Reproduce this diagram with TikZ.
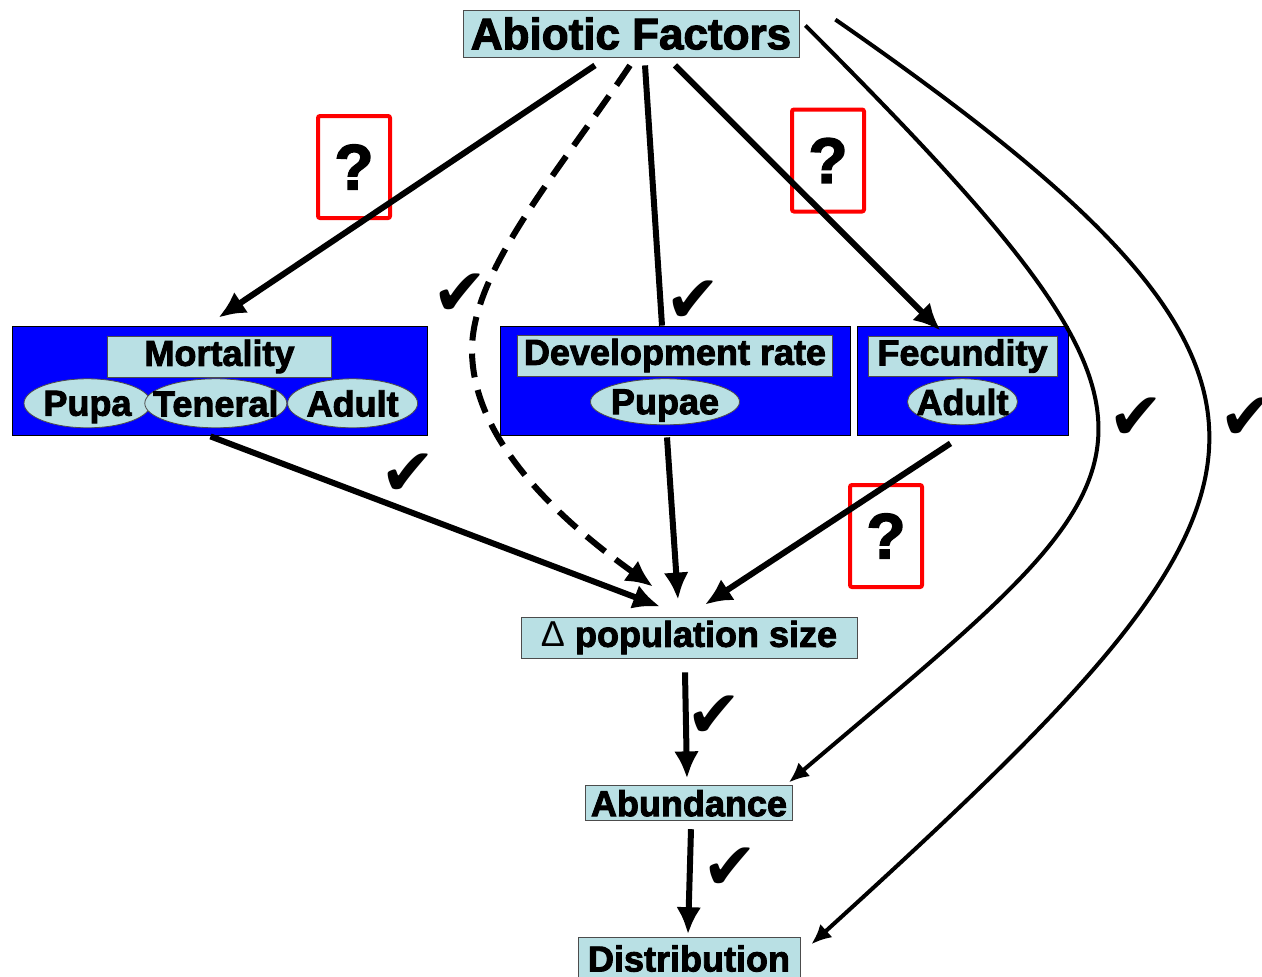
\documentclass[tikz,border=0pt]{standalone}
\usepackage{fontspec}
\usepackage{tikz}
\usetikzlibrary{arrows.meta,calc,positioning,shapes.geometric}
\setmainfont{Liberation Sans}[BoldFeatures={FakeBold=2.5}]
\newfontfamily\tickfont{DejaVu Sans}
\definecolor{paleblue}{RGB}{185,224,228}
\definecolor{boxblue}{RGB}{0,0,255}
\definecolor{qred}{RGB}{255,0,0}
\newcommand{\zw}[1]{\makebox[0pt]{#1}}

\begin{document}
\begin{tikzpicture}[x=1pt, y=-1pt,
    every node/.style={font=\bfseries\fontsize{36}{36}\selectfont}]
    \tikzstyle{tag}=[rectangle, draw=black!70, fill=paleblue, inner sep=0pt, line width=0.8pt]
    \tikzstyle{group}=[rectangle, draw=black, fill=boxblue, inner sep=0pt, minimum height=109pt, line width=0.8pt]
    \tikzstyle{stage}=[ellipse, draw=black!70, fill=paleblue, inner sep=0pt, minimum height=49pt, text depth=0pt, line width=0.8pt]
    \tikzstyle{qbox}=[rectangle, draw=qred, line width=4pt, rounded corners=2pt, minimum width=72pt, minimum height=102pt, font=\bfseries\fontsize{64}{64}\selectfont]
    \tikzstyle{tick}=[inner sep=0pt, font=\tickfont\fontsize{66}{66}\selectfont]
    \tikzstyle{connect}=[-{Latex[length=27pt,width=25pt]}, line width=6pt]
    \tikzstyle{curved}=[-{Latex[length=20pt,width=18pt]}, line width=4pt]

      \useasboundingbox (0,0) rectangle (1262,977);

      \node[tag, minimum width=336pt, minimum height=47pt, font=\bfseries\fontsize{44}{44}\selectfont] (abiotic) at (631,33.5) {Abiotic Factors};

      % mortality
      \node[group, minimum width=415pt] (mortbox) at (219.5,380.5) {};
      \node[tag, minimum width=224pt, minimum height=41pt] (mort) [below=10pt of mortbox.north] {Mortality};
      \node[stage, minimum width=127pt] (pupa) [below=1pt of mort, xshift=-132pt] {\zw{Pupa}};
      \node[stage, minimum width=142pt] (teneral) [right=-7pt of pupa] {\zw{Teneral}};
      \node[stage, minimum width=130pt] (adult) [right=0pt of teneral] {\zw{Adult}};

      % development
      \node[group, minimum width=350pt] (devbox) at (675,380.5) {};
      \node[tag, minimum width=315pt, minimum height=41pt] (dev) [below=9pt of devbox.north] {Development rate};
      \node[stage, minimum width=149pt, minimum height=46pt] (pupae) [below=2pt of dev, xshift=-10pt] {\zw{Pupae}};

      % fecundity
      \node[group, minimum width=211pt] (fecbox) at (962.5,380.5) {};
      \node[tag, minimum width=189pt, minimum height=40pt] (fec) [below=10pt of fecbox.north] {Fecundity};
      \node[stage, minimum width=110pt, minimum height=46pt] (fecadult) [below=2pt of fec] {\zw{Adult}};

      \node[tag, minimum width=336pt, minimum height=41pt] (popsize) at (689,637.5) {{\mdseries Δ} population size};
      \node[tag, minimum width=207pt, minimum height=35pt] (abundance) [below=127pt of popsize] {Abundance};
      \node[tag, minimum width=222pt, minimum height=42pt] (distribution) [below=116pt of abundance] {Distribution};

      \node[qbox] (q1) at (354,167) {?};
      \node[qbox] (q2) at (828,160.5) {?};
      \node[qbox] (q3) at (886,536) {?};

      \node[tick] (tick1) at (460,295) {✔};
      \node[tick] (tick2) at (693,302) {✔};
      \node[tick] (tick3) at (408,475) {✔};
      \node[tick] (tick4) at (714,717) {✔};
      \node[tick] (tick5) at (730,869) {✔};
      \node[tick] (tick6) at (1136,419) {✔};
      \node[tick] (tick7) at (1247,419) {✔};

      \coordinate (bend) at (472,350);
      \path
        ($(abiotic.south)+(-36,8)$) edge [connect] ($(mortbox.north)+(-1,-8)$)
        ($(abiotic.south)+(14,8)$) edge [line width=6pt] ($(devbox.north)+(-13,0)$)
        ($(abiotic.south)+(44,8)$) edge [connect] ($(fecbox.north)+(-22,5)$)
        ($(mortbox.south)+(-9,1)$) edge [connect] ($(popsize.north)+(-29,-10)$)
        ($(devbox.south)+(-8,2)$) edge [connect] ($(popsize.north)+(-11,-17)$)
        ($(fecbox.south)+(-12,8)$) edge [connect] ($(popsize.north)+(16,-12)$)
        ($(popsize.south)+(-4,14)$) edge [connect] ($(abundance.north)+(-2,-7)$)
        ($(abundance.south)+(2,8)$) edge [connect] ($(distribution.north)+(-1,-3)$);
      \draw[connect, dash pattern=on 24pt off 13pt] ($(abiotic.south)+(-1,8)$) .. controls (560,170) and (472,270) .. (bend)
        .. controls (472,440) and (560,520) .. ($(popsize.north)+(-36,-30)$);
      \draw[curved] ($(abiotic.east)+(6,-8)$) .. controls (1226,447) and (1166,462) .. ($(abundance.north east)+(-4,-3)$);
      \draw[curved] ($(abiotic.north east)+(36,10)$) .. controls (1370,390) and (1300,500) .. ($(distribution.north east)+(11,7)$);
    \end{tikzpicture}
\end{document}
